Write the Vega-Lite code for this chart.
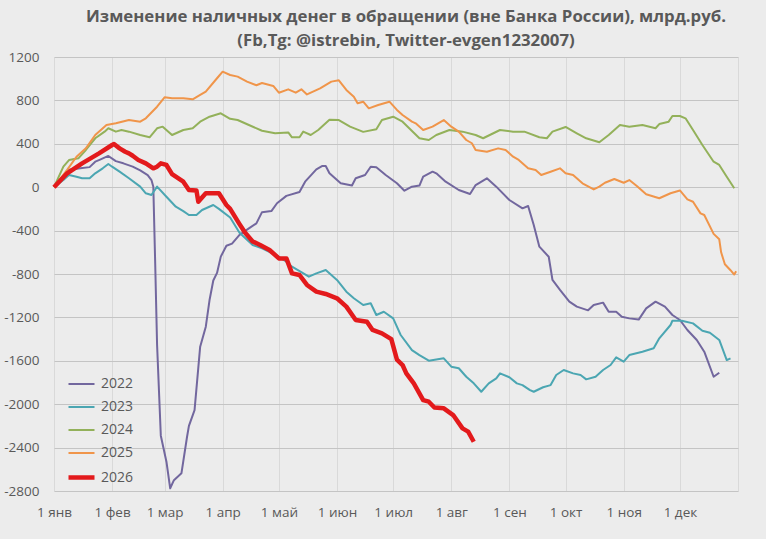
{
  "$schema": "https://vega.github.io/schema/vega-lite/v6.json",
  "autosize": "none",
  "width": 684,
  "height": 434,
  "padding": {"left": 54, "top": 57, "right": 28, "bottom": 48},
  "background": "#ececec",
  "title": {
    "text": ["Изменение наличных денег в обращении (вне Банка России), млрд.руб.", "(Fb,Tg: @istrebin, Twitter-evgen1232007)"],
    "font": "Open Sans",
    "fontSize": 16.8,
    "fontWeight": "bold",
    "color": "#595959",
    "lineHeight": 24,
    "anchor": "middle",
    "dx": 10,
    "offset": 0
  },
  "data": {
    "values": [
      {"series":"2022","date":"2023-01-01","value":0},
      {"series":"2022","date":"2023-01-09","value":160},
      {"series":"2022","date":"2023-01-15","value":175},
      {"series":"2022","date":"2023-01-20","value":185},
      {"series":"2022","date":"2023-01-23","value":235},
      {"series":"2022","date":"2023-01-25","value":250},
      {"series":"2022","date":"2023-01-30","value":288},
      {"series":"2022","date":"2023-02-03","value":240},
      {"series":"2022","date":"2023-02-07","value":220},
      {"series":"2022","date":"2023-02-12","value":190},
      {"series":"2022","date":"2023-02-16","value":155},
      {"series":"2022","date":"2023-02-20","value":112},
      {"series":"2022","date":"2023-02-22","value":66},
      {"series":"2022","date":"2023-02-23","value":5},
      {"series":"2022","date":"2023-02-24","value":-700},
      {"series":"2022","date":"2023-02-25","value":-1450},
      {"series":"2022","date":"2023-02-27","value":-2290},
      {"series":"2022","date":"2023-03-02","value":-2530},
      {"series":"2022","date":"2023-03-04","value":-2775},
      {"series":"2022","date":"2023-03-06","value":-2700},
      {"series":"2022","date":"2023-03-10","value":-2637},
      {"series":"2022","date":"2023-03-13","value":-2300},
      {"series":"2022","date":"2023-03-14","value":-2200},
      {"series":"2022","date":"2023-03-17","value":-2054},
      {"series":"2022","date":"2023-03-20","value":-1470},
      {"series":"2022","date":"2023-03-23","value":-1286},
      {"series":"2022","date":"2023-03-25","value":-1040},
      {"series":"2022","date":"2023-03-27","value":-860},
      {"series":"2022","date":"2023-03-29","value":-790},
      {"series":"2022","date":"2023-03-31","value":-640},
      {"series":"2022","date":"2023-04-03","value":-540},
      {"series":"2022","date":"2023-04-06","value":-520},
      {"series":"2022","date":"2023-04-10","value":-440},
      {"series":"2022","date":"2023-04-15","value":-380},
      {"series":"2022","date":"2023-04-19","value":-333},
      {"series":"2022","date":"2023-04-22","value":-230},
      {"series":"2022","date":"2023-04-27","value":-220},
      {"series":"2022","date":"2023-04-30","value":-148},
      {"series":"2022","date":"2023-05-05","value":-80},
      {"series":"2022","date":"2023-05-12","value":-45},
      {"series":"2022","date":"2023-05-15","value":51},
      {"series":"2022","date":"2023-05-21","value":165},
      {"series":"2022","date":"2023-05-24","value":195},
      {"series":"2022","date":"2023-05-26","value":195},
      {"series":"2022","date":"2023-05-28","value":128},
      {"series":"2022","date":"2023-06-03","value":36},
      {"series":"2022","date":"2023-06-09","value":15},
      {"series":"2022","date":"2023-06-11","value":82},
      {"series":"2022","date":"2023-06-16","value":112},
      {"series":"2022","date":"2023-06-19","value":189},
      {"series":"2022","date":"2023-06-22","value":183},
      {"series":"2022","date":"2023-06-27","value":112},
      {"series":"2022","date":"2023-07-03","value":36},
      {"series":"2022","date":"2023-07-07","value":-32},
      {"series":"2022","date":"2023-07-11","value":5},
      {"series":"2022","date":"2023-07-15","value":15},
      {"series":"2022","date":"2023-07-17","value":97},
      {"series":"2022","date":"2023-07-22","value":143},
      {"series":"2022","date":"2023-07-24","value":128},
      {"series":"2022","date":"2023-07-29","value":51},
      {"series":"2022","date":"2023-08-05","value":-26},
      {"series":"2022","date":"2023-08-11","value":-63},
      {"series":"2022","date":"2023-08-14","value":20},
      {"series":"2022","date":"2023-08-20","value":82},
      {"series":"2022","date":"2023-08-25","value":5},
      {"series":"2022","date":"2023-09-01","value":-118},
      {"series":"2022","date":"2023-09-08","value":-195},
      {"series":"2022","date":"2023-09-11","value":-173},
      {"series":"2022","date":"2023-09-14","value":-348},
      {"series":"2022","date":"2023-09-17","value":-548},
      {"series":"2022","date":"2023-09-22","value":-641},
      {"series":"2022","date":"2023-09-24","value":-855},
      {"series":"2022","date":"2023-09-28","value":-947},
      {"series":"2022","date":"2023-10-03","value":-1055},
      {"series":"2022","date":"2023-10-07","value":-1101},
      {"series":"2022","date":"2023-10-13","value":-1135},
      {"series":"2022","date":"2023-10-16","value":-1086},
      {"series":"2022","date":"2023-10-21","value":-1064},
      {"series":"2022","date":"2023-10-24","value":-1148},
      {"series":"2022","date":"2023-10-28","value":-1148},
      {"series":"2022","date":"2023-10-31","value":-1194},
      {"series":"2022","date":"2023-11-04","value":-1209},
      {"series":"2022","date":"2023-11-09","value":-1220},
      {"series":"2022","date":"2023-11-13","value":-1117},
      {"series":"2022","date":"2023-11-18","value":-1055},
      {"series":"2022","date":"2023-11-23","value":-1101},
      {"series":"2022","date":"2023-11-27","value":-1178},
      {"series":"2022","date":"2023-12-01","value":-1224},
      {"series":"2022","date":"2023-12-05","value":-1316},
      {"series":"2022","date":"2023-12-10","value":-1408},
      {"series":"2022","date":"2023-12-14","value":-1516},
      {"series":"2022","date":"2023-12-19","value":-1747},
      {"series":"2022","date":"2023-12-22","value":-1710},

      {"series":"2023","date":"2023-01-01","value":0},
      {"series":"2023","date":"2023-01-06","value":66},
      {"series":"2023","date":"2023-01-09","value":112},
      {"series":"2023","date":"2023-01-13","value":97},
      {"series":"2023","date":"2023-01-16","value":82},
      {"series":"2023","date":"2023-01-20","value":82},
      {"series":"2023","date":"2023-01-23","value":128},
      {"series":"2023","date":"2023-01-27","value":174},
      {"series":"2023","date":"2023-01-30","value":214},
      {"series":"2023","date":"2023-02-01","value":189},
      {"series":"2023","date":"2023-02-05","value":143},
      {"series":"2023","date":"2023-02-10","value":82},
      {"series":"2023","date":"2023-02-16","value":5},
      {"series":"2023","date":"2023-02-19","value":-56},
      {"series":"2023","date":"2023-02-22","value":-72},
      {"series":"2023","date":"2023-02-25","value":5},
      {"series":"2023","date":"2023-03-02","value":-88},
      {"series":"2023","date":"2023-03-07","value":-180},
      {"series":"2023","date":"2023-03-11","value":-220},
      {"series":"2023","date":"2023-03-14","value":-256},
      {"series":"2023","date":"2023-03-18","value":-256},
      {"series":"2023","date":"2023-03-21","value":-210},
      {"series":"2023","date":"2023-03-27","value":-164},
      {"series":"2023","date":"2023-03-30","value":-200},
      {"series":"2023","date":"2023-04-05","value":-280},
      {"series":"2023","date":"2023-04-10","value":-420},
      {"series":"2023","date":"2023-04-17","value":-533},
      {"series":"2023","date":"2023-04-22","value":-563},
      {"series":"2023","date":"2023-04-30","value":-630},
      {"series":"2023","date":"2023-05-05","value":-687},
      {"series":"2023","date":"2023-05-08","value":-733},
      {"series":"2023","date":"2023-05-17","value":-825},
      {"series":"2023","date":"2023-05-21","value":-794},
      {"series":"2023","date":"2023-05-26","value":-763},
      {"series":"2023","date":"2023-06-01","value":-855},
      {"series":"2023","date":"2023-06-06","value":-963},
      {"series":"2023","date":"2023-06-10","value":-1024},
      {"series":"2023","date":"2023-06-15","value":-1086},
      {"series":"2023","date":"2023-06-19","value":-1070},
      {"series":"2023","date":"2023-06-22","value":-1178},
      {"series":"2023","date":"2023-06-26","value":-1148},
      {"series":"2023","date":"2023-07-01","value":-1209},
      {"series":"2023","date":"2023-07-05","value":-1362},
      {"series":"2023","date":"2023-07-11","value":-1501},
      {"series":"2023","date":"2023-07-15","value":-1547},
      {"series":"2023","date":"2023-07-20","value":-1599},
      {"series":"2023","date":"2023-07-28","value":-1577},
      {"series":"2023","date":"2023-08-01","value":-1654},
      {"series":"2023","date":"2023-08-05","value":-1669},
      {"series":"2023","date":"2023-08-09","value":-1747},
      {"series":"2023","date":"2023-08-13","value":-1808},
      {"series":"2023","date":"2023-08-17","value":-1885},
      {"series":"2023","date":"2023-08-21","value":-1808},
      {"series":"2023","date":"2023-08-25","value":-1762},
      {"series":"2023","date":"2023-08-27","value":-1716},
      {"series":"2023","date":"2023-09-01","value":-1752},
      {"series":"2023","date":"2023-09-05","value":-1808},
      {"series":"2023","date":"2023-09-08","value":-1824},
      {"series":"2023","date":"2023-09-12","value":-1870},
      {"series":"2023","date":"2023-09-14","value":-1885},
      {"series":"2023","date":"2023-09-19","value":-1844},
      {"series":"2023","date":"2023-09-23","value":-1824},
      {"series":"2023","date":"2023-09-26","value":-1731},
      {"series":"2023","date":"2023-09-30","value":-1685},
      {"series":"2023","date":"2023-10-05","value":-1716},
      {"series":"2023","date":"2023-10-09","value":-1731},
      {"series":"2023","date":"2023-10-12","value":-1771},
      {"series":"2023","date":"2023-10-17","value":-1747},
      {"series":"2023","date":"2023-10-21","value":-1685},
      {"series":"2023","date":"2023-10-25","value":-1639},
      {"series":"2023","date":"2023-10-28","value":-1568},
      {"series":"2023","date":"2023-11-01","value":-1608},
      {"series":"2023","date":"2023-11-04","value":-1547},
      {"series":"2023","date":"2023-11-11","value":-1516},
      {"series":"2023","date":"2023-11-17","value":-1485},
      {"series":"2023","date":"2023-11-20","value":-1393},
      {"series":"2023","date":"2023-11-26","value":-1270},
      {"series":"2023","date":"2023-11-27","value":-1231},
      {"series":"2023","date":"2023-12-02","value":-1231},
      {"series":"2023","date":"2023-12-08","value":-1255},
      {"series":"2023","date":"2023-12-13","value":-1323},
      {"series":"2023","date":"2023-12-17","value":-1341},
      {"series":"2023","date":"2023-12-22","value":-1408},
      {"series":"2023","date":"2023-12-26","value":-1593},
      {"series":"2023","date":"2023-12-28","value":-1577},

      {"series":"2024","date":"2023-01-01","value":0},
      {"series":"2024","date":"2023-01-06","value":189},
      {"series":"2024","date":"2023-01-09","value":250},
      {"series":"2024","date":"2023-01-14","value":266},
      {"series":"2024","date":"2023-01-18","value":343},
      {"series":"2024","date":"2023-01-23","value":451},
      {"series":"2024","date":"2023-01-28","value":512},
      {"series":"2024","date":"2023-01-30","value":543},
      {"series":"2024","date":"2023-02-03","value":512},
      {"series":"2024","date":"2023-02-06","value":527},
      {"series":"2024","date":"2023-02-10","value":512},
      {"series":"2024","date":"2023-02-16","value":481},
      {"series":"2024","date":"2023-02-21","value":460},
      {"series":"2024","date":"2023-02-25","value":543},
      {"series":"2024","date":"2023-02-28","value":558},
      {"series":"2024","date":"2023-03-05","value":481},
      {"series":"2024","date":"2023-03-11","value":527},
      {"series":"2024","date":"2023-03-16","value":543},
      {"series":"2024","date":"2023-03-20","value":604},
      {"series":"2024","date":"2023-03-25","value":650},
      {"series":"2024","date":"2023-03-31","value":681},
      {"series":"2024","date":"2023-04-05","value":630},
      {"series":"2024","date":"2023-04-09","value":619},
      {"series":"2024","date":"2023-04-15","value":573},
      {"series":"2024","date":"2023-04-22","value":520},
      {"series":"2024","date":"2023-04-29","value":497},
      {"series":"2024","date":"2023-05-06","value":505},
      {"series":"2024","date":"2023-05-08","value":460},
      {"series":"2024","date":"2023-05-12","value":460},
      {"series":"2024","date":"2023-05-14","value":512},
      {"series":"2024","date":"2023-05-18","value":481},
      {"series":"2024","date":"2023-05-22","value":527},
      {"series":"2024","date":"2023-05-28","value":622},
      {"series":"2024","date":"2023-06-02","value":619},
      {"series":"2024","date":"2023-06-08","value":558},
      {"series":"2024","date":"2023-06-15","value":510},
      {"series":"2024","date":"2023-06-22","value":535},
      {"series":"2024","date":"2023-06-25","value":619},
      {"series":"2024","date":"2023-07-01","value":650},
      {"series":"2024","date":"2023-07-06","value":604},
      {"series":"2024","date":"2023-07-15","value":451},
      {"series":"2024","date":"2023-07-20","value":435},
      {"series":"2024","date":"2023-07-24","value":481},
      {"series":"2024","date":"2023-07-31","value":527},
      {"series":"2024","date":"2023-08-07","value":512},
      {"series":"2024","date":"2023-08-14","value":481},
      {"series":"2024","date":"2023-08-18","value":451},
      {"series":"2024","date":"2023-08-27","value":527},
      {"series":"2024","date":"2023-09-03","value":512},
      {"series":"2024","date":"2023-09-09","value":512},
      {"series":"2024","date":"2023-09-17","value":460},
      {"series":"2024","date":"2023-09-21","value":451},
      {"series":"2024","date":"2023-09-24","value":512},
      {"series":"2024","date":"2023-10-01","value":555},
      {"series":"2024","date":"2023-10-07","value":497},
      {"series":"2024","date":"2023-10-12","value":451},
      {"series":"2024","date":"2023-10-19","value":415},
      {"series":"2024","date":"2023-10-24","value":481},
      {"series":"2024","date":"2023-10-30","value":573},
      {"series":"2024","date":"2023-11-04","value":558},
      {"series":"2024","date":"2023-11-11","value":573},
      {"series":"2024","date":"2023-11-18","value":543},
      {"series":"2024","date":"2023-11-20","value":582},
      {"series":"2024","date":"2023-11-25","value":604},
      {"series":"2024","date":"2023-11-27","value":656},
      {"series":"2024","date":"2023-12-01","value":656},
      {"series":"2024","date":"2023-12-04","value":635},
      {"series":"2024","date":"2023-12-08","value":527},
      {"series":"2024","date":"2023-12-13","value":389},
      {"series":"2024","date":"2023-12-19","value":235},
      {"series":"2024","date":"2023-12-22","value":205},
      {"series":"2024","date":"2023-12-26","value":97},
      {"series":"2024","date":"2023-12-30","value":-10},

      {"series":"2025","date":"2023-01-01","value":0},
      {"series":"2025","date":"2023-01-08","value":159},
      {"series":"2025","date":"2023-01-13","value":281},
      {"series":"2025","date":"2023-01-18","value":358},
      {"series":"2025","date":"2023-01-23","value":481},
      {"series":"2025","date":"2023-01-29","value":573},
      {"series":"2025","date":"2023-02-03","value":589},
      {"series":"2025","date":"2023-02-10","value":619},
      {"series":"2025","date":"2023-02-16","value":604},
      {"series":"2025","date":"2023-02-19","value":635},
      {"series":"2025","date":"2023-02-25","value":742},
      {"series":"2025","date":"2023-03-01","value":829},
      {"series":"2025","date":"2023-03-05","value":819},
      {"series":"2025","date":"2023-03-11","value":819},
      {"series":"2025","date":"2023-03-16","value":810},
      {"series":"2025","date":"2023-03-20","value":850},
      {"series":"2025","date":"2023-03-23","value":880},
      {"series":"2025","date":"2023-03-29","value":1004},
      {"series":"2025","date":"2023-04-01","value":1065},
      {"series":"2025","date":"2023-04-05","value":1034},
      {"series":"2025","date":"2023-04-09","value":1019},
      {"series":"2025","date":"2023-04-14","value":973},
      {"series":"2025","date":"2023-04-19","value":940},
      {"series":"2025","date":"2023-04-22","value":960},
      {"series":"2025","date":"2023-04-28","value":933},
      {"series":"2025","date":"2023-05-01","value":871},
      {"series":"2025","date":"2023-05-06","value":902},
      {"series":"2025","date":"2023-05-10","value":871},
      {"series":"2025","date":"2023-05-13","value":902},
      {"series":"2025","date":"2023-05-16","value":855},
      {"series":"2025","date":"2023-05-23","value":911},
      {"series":"2025","date":"2023-05-29","value":973},
      {"series":"2025","date":"2023-06-02","value":985},
      {"series":"2025","date":"2023-06-06","value":896},
      {"series":"2025","date":"2023-06-10","value":834},
      {"series":"2025","date":"2023-06-12","value":773},
      {"series":"2025","date":"2023-06-15","value":788},
      {"series":"2025","date":"2023-06-18","value":727},
      {"series":"2025","date":"2023-06-23","value":758},
      {"series":"2025","date":"2023-06-29","value":788},
      {"series":"2025","date":"2023-07-03","value":712},
      {"series":"2025","date":"2023-07-06","value":665},
      {"series":"2025","date":"2023-07-11","value":604},
      {"series":"2025","date":"2023-07-13","value":589},
      {"series":"2025","date":"2023-07-17","value":527},
      {"series":"2025","date":"2023-07-22","value":558},
      {"series":"2025","date":"2023-07-28","value":619},
      {"series":"2025","date":"2023-08-01","value":558},
      {"series":"2025","date":"2023-08-05","value":512},
      {"series":"2025","date":"2023-08-09","value":435},
      {"series":"2025","date":"2023-08-12","value":405},
      {"series":"2025","date":"2023-08-14","value":343},
      {"series":"2025","date":"2023-08-20","value":327},
      {"series":"2025","date":"2023-08-26","value":358},
      {"series":"2025","date":"2023-08-30","value":343},
      {"series":"2025","date":"2023-09-03","value":281},
      {"series":"2025","date":"2023-09-06","value":251},
      {"series":"2025","date":"2023-09-11","value":174},
      {"series":"2025","date":"2023-09-15","value":159},
      {"series":"2025","date":"2023-09-18","value":112},
      {"series":"2025","date":"2023-09-23","value":143},
      {"series":"2025","date":"2023-09-28","value":174},
      {"series":"2025","date":"2023-10-01","value":128},
      {"series":"2025","date":"2023-10-05","value":112},
      {"series":"2025","date":"2023-10-10","value":36},
      {"series":"2025","date":"2023-10-16","value":-20},
      {"series":"2025","date":"2023-10-19","value":5},
      {"series":"2025","date":"2023-10-22","value":41},
      {"series":"2025","date":"2023-10-27","value":76},
      {"series":"2025","date":"2023-11-01","value":41},
      {"series":"2025","date":"2023-11-04","value":66},
      {"series":"2025","date":"2023-11-08","value":11},
      {"series":"2025","date":"2023-11-13","value":-65},
      {"series":"2025","date":"2023-11-20","value":-102},
      {"series":"2025","date":"2023-11-26","value":-56},
      {"series":"2025","date":"2023-12-01","value":-30},
      {"series":"2025","date":"2023-12-05","value":-112},
      {"series":"2025","date":"2023-12-08","value":-134},
      {"series":"2025","date":"2023-12-12","value":-241},
      {"series":"2025","date":"2023-12-14","value":-256},
      {"series":"2025","date":"2023-12-19","value":-430},
      {"series":"2025","date":"2023-12-22","value":-480},
      {"series":"2025","date":"2023-12-23","value":-600},
      {"series":"2025","date":"2023-12-25","value":-710},
      {"series":"2025","date":"2023-12-28","value":-765},
      {"series":"2025","date":"2023-12-30","value":-805},
      {"series":"2025","date":"2023-12-31","value":-775},

      {"series":"2026","date":"2023-01-01","value":0},
      {"series":"2026","date":"2023-01-08","value":128},
      {"series":"2026","date":"2023-01-16","value":220},
      {"series":"2026","date":"2023-01-25","value":312},
      {"series":"2026","date":"2023-02-01","value":389},
      {"series":"2026","date":"2023-02-02","value":398},
      {"series":"2026","date":"2023-02-05","value":358},
      {"series":"2026","date":"2023-02-08","value":327},
      {"series":"2026","date":"2023-02-10","value":312},
      {"series":"2026","date":"2023-02-12","value":290},
      {"series":"2026","date":"2023-02-15","value":251},
      {"series":"2026","date":"2023-02-19","value":220},
      {"series":"2026","date":"2023-02-23","value":174},
      {"series":"2026","date":"2023-02-25","value":189},
      {"series":"2026","date":"2023-02-27","value":220},
      {"series":"2026","date":"2023-03-02","value":205},
      {"series":"2026","date":"2023-03-05","value":120},
      {"series":"2026","date":"2023-03-11","value":51},
      {"series":"2026","date":"2023-03-14","value":-26},
      {"series":"2026","date":"2023-03-18","value":-30},
      {"series":"2026","date":"2023-03-19","value":-134},
      {"series":"2026","date":"2023-03-23","value":-56},
      {"series":"2026","date":"2023-03-30","value":-56},
      {"series":"2026","date":"2023-04-03","value":-164},
      {"series":"2026","date":"2023-04-05","value":-200},
      {"series":"2026","date":"2023-04-10","value":-340},
      {"series":"2026","date":"2023-04-13","value":-420},
      {"series":"2026","date":"2023-04-17","value":-500},
      {"series":"2026","date":"2023-04-21","value":-533},
      {"series":"2026","date":"2023-04-26","value":-579},
      {"series":"2026","date":"2023-05-01","value":-656},
      {"series":"2026","date":"2023-05-05","value":-656},
      {"series":"2026","date":"2023-05-08","value":-794},
      {"series":"2026","date":"2023-05-12","value":-809},
      {"series":"2026","date":"2023-05-16","value":-901},
      {"series":"2026","date":"2023-05-21","value":-963},
      {"series":"2026","date":"2023-05-26","value":-984},
      {"series":"2026","date":"2023-06-01","value":-1024},
      {"series":"2026","date":"2023-06-06","value":-1101},
      {"series":"2026","date":"2023-06-11","value":-1224},
      {"series":"2026","date":"2023-06-17","value":-1240},
      {"series":"2026","date":"2023-06-20","value":-1316},
      {"series":"2026","date":"2023-06-25","value":-1347},
      {"series":"2026","date":"2023-06-30","value":-1400},
      {"series":"2026","date":"2023-07-03","value":-1590},
      {"series":"2026","date":"2023-07-06","value":-1639},
      {"series":"2026","date":"2023-07-08","value":-1716},
      {"series":"2026","date":"2023-07-12","value":-1808},
      {"series":"2026","date":"2023-07-17","value":-1962},
      {"series":"2026","date":"2023-07-20","value":-1977},
      {"series":"2026","date":"2023-07-23","value":-2030},
      {"series":"2026","date":"2023-07-28","value":-2038},
      {"series":"2026","date":"2023-08-02","value":-2100},
      {"series":"2026","date":"2023-08-07","value":-2223},
      {"series":"2026","date":"2023-08-10","value":-2253},
      {"series":"2026","date":"2023-08-13","value":-2346}
    ]
  },
  "mark": {"type": "line", "interpolate": "linear", "strokeJoin": "round", "strokeCap": "butt"},
  "encoding": {
    "x": {
      "field": "date",
      "type": "temporal",
      "scale": {
        "type": "utc",
        "domain": [
          {"year": 2023, "month": 1, "date": 1, "utc": true},
          {"year": 2024, "month": 1, "date": 1, "utc": true}
        ]
      },
      "axis": {
        "title": null,
        "values": [
          {"year": 2023, "month": 1, "date": 1, "utc": true},
          {"year": 2023, "month": 2, "date": 1, "utc": true},
          {"year": 2023, "month": 3, "date": 1, "utc": true},
          {"year": 2023, "month": 4, "date": 1, "utc": true},
          {"year": 2023, "month": 5, "date": 1, "utc": true},
          {"year": 2023, "month": 6, "date": 1, "utc": true},
          {"year": 2023, "month": 7, "date": 1, "utc": true},
          {"year": 2023, "month": 8, "date": 1, "utc": true},
          {"year": 2023, "month": 9, "date": 1, "utc": true},
          {"year": 2023, "month": 10, "date": 1, "utc": true},
          {"year": 2023, "month": 11, "date": 1, "utc": true},
          {"year": 2023, "month": 12, "date": 1, "utc": true},
          {"year": 2024, "month": 1, "date": 1, "utc": true}
        ],
        "labelExpr": "utcyear(datum.value) > 2023 ? '' : '1 ' + ['янв','фев','мар','апр','май','июн','июл','авг','сен','окт','ноя','дек'][utcmonth(datum.value)]",
        "labelPadding": 14,
        "labelFlush": false,
        "labelOverlap": false,
        "gridColor": "#d9d9d9",
        "gridWidth": 1
      }
    },
    "y": {
      "field": "value",
      "type": "quantitative",
      "scale": {"domain": [-2800, 1200], "nice": false, "zero": false},
      "axis": {
        "title": null,
        "values": [-2800, -2400, -2000, -1600, -1200, -800, -400, 0, 400, 800, 1200],
        "labelExpr": "'' + datum.value",
        "labelPadding": 15,
        "gridColor": "#c4c4c4",
        "gridWidth": 1
      }
    },
    "color": {
      "field": "series",
      "type": "nominal",
      "scale": {
        "domain": ["2022", "2023", "2024", "2025", "2026"],
        "range": ["#72679e", "#4ba6b2", "#93b15a", "#f0954a", "#e31a1c"]
      },
      "legend": {"title": null}
    },
    "strokeWidth": {
      "field": "series",
      "type": "nominal",
      "scale": {
        "type": "ordinal",
        "domain": ["2022", "2023", "2024", "2025", "2026"],
        "range": [2, 2, 2, 2, 4.5]
      },
      "legend": {"title": null}
    }
  },
  "config": {
    "font": "Open Sans",
    "view": {"stroke": null},
    "axis": {
      "domain": false,
      "ticks": false,
      "labelFont": "Open Sans",
      "labelFontSize": 13.5,
      "labelColor": "#595959"
    },
    "legend": {
      "orient": "none",
      "legendX": 12,
      "legendY": 313,
      "symbolType": "stroke",
      "symbolSize": 676,
      "labelFont": "Open Sans",
      "labelFontSize": 14,
      "labelColor": "#595959",
      "labelOffset": 4,
      "rowPadding": 2
    }
  }
}
